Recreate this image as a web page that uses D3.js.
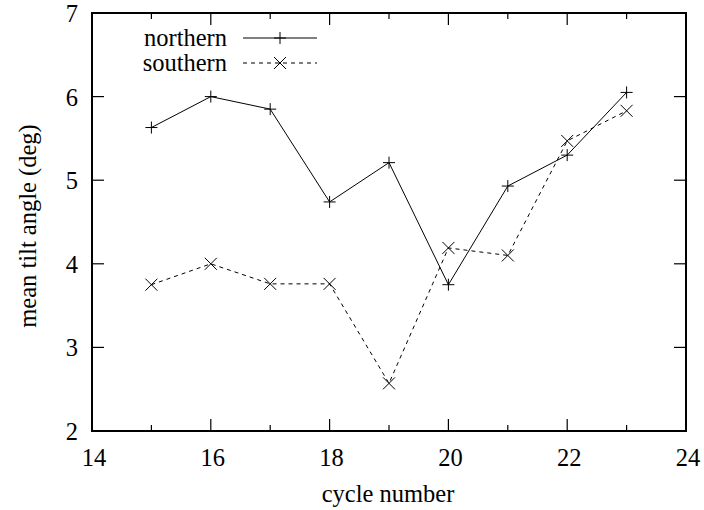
<!DOCTYPE html>
<html><head><meta charset="utf-8">
<script src="https://cdn.jsdelivr.net/npm/d3@7"></script>
<style>body{margin:0;background:#fff}svg text{font-family:"Liberation Serif","Times New Roman",serif;fill:#000}</style>
</head><body><svg id="c" width="704" height="510"></svg>
<script>
const cycles = [15,16,17,18,19,20,21,22,23];
const northern = [5.63,6.00,5.85,4.74,5.21,3.75,4.93,5.30,6.05];
const southern = [3.75,4.00,3.76,3.76,2.57,4.19,4.10,5.47,5.83];
const xTicks = [14,16,18,20,22,24];
const xMinor = [15,17,19,21,23];
const yTicks = [2,3,4,5,6,7];
const seriesNames = ["northern","southern"];

const svg = d3.select("#c");
const L=92,R=686,T=13,B=431;
const FS=24.5;
const x = d3.scaleLinear().domain([14,24]).range([L,R]);
const y = d3.scaleLinear().domain([2,7]).range([B,T]);
const g = svg.append("g");

// ticks
const tk = g.append("g").attr("stroke","#000").attr("stroke-width",1.2);
xTicks.forEach(v=>{
  tk.append("line").attr("x1",x(v)).attr("x2",x(v)).attr("y1",B).attr("y2",B-12);
  tk.append("line").attr("x1",x(v)).attr("x2",x(v)).attr("y1",T).attr("y2",T+12);
});
xMinor.forEach(v=>{
  tk.append("line").attr("x1",x(v)).attr("x2",x(v)).attr("y1",B).attr("y2",B-6);
  tk.append("line").attr("x1",x(v)).attr("x2",x(v)).attr("y1",T).attr("y2",T+6);
});
yTicks.forEach(v=>{
  tk.append("line").attr("x1",L).attr("x2",L+12).attr("y1",y(v)).attr("y2",y(v));
  tk.append("line").attr("x1",R).attr("x2",R-12).attr("y1",y(v)).attr("y2",y(v));
});
// labels
xTicks.forEach(v=>{
  g.append("text").attr("x",x(v)+2).attr("y",466).attr("text-anchor","middle").attr("font-size",FS).text(v);
});
yTicks.forEach(v=>{
  g.append("text").attr("x",78).attr("y",y(v)+9).attr("text-anchor","end").attr("font-size",FS).text(v);
});
g.append("text").attr("x",388).attr("y",502).attr("text-anchor","middle").attr("font-size",FS).text("cycle number");
g.append("text").attr("transform","translate(36,226) rotate(-90)").attr("text-anchor","middle").attr("font-size",FS).text("mean tilt angle (deg)");

// frame
g.append("rect").attr("x",L).attr("y",T).attr("width",R-L).attr("height",B-T).attr("fill","none").attr("stroke","#000").attr("stroke-width",2);

const line = d3.line().x((d,i)=>x(cycles[i])).y(d=>y(d));
const plus = (sel,cx,cy)=>{const s=6;sel.append("path").attr("d",`M${cx-s},${cy}H${cx+s}M${cx},${cy-s}V${cy+s}`).attr("stroke","#000").attr("stroke-width",1).attr("fill","none");};
const cross = (sel,cx,cy)=>{const s=6;sel.append("path").attr("d",`M${cx-s},${cy-s}L${cx+s},${cy+s}M${cx-s},${cy+s}L${cx+s},${cy-s}`).attr("stroke","#000").attr("stroke-width",1).attr("fill","none");};

g.append("path").datum(northern).attr("d",line).attr("fill","none").attr("stroke","#000").attr("stroke-width",1);
g.append("path").datum(southern).attr("d",line).attr("fill","none").attr("stroke","#000").attr("stroke-width",1).attr("stroke-dasharray","4,4");
northern.forEach((v,i)=>plus(g,x(cycles[i]),y(v)));
southern.forEach((v,i)=>cross(g,x(cycles[i]),y(v)));

// legend
const leg = g.append("g");
[[38,seriesNames[0],plus,null],[63,seriesNames[1],cross,"4,4"]].forEach(([ly,name,mk,dash])=>{
  leg.append("text").attr("x",227).attr("y",ly+8).attr("text-anchor","end").attr("font-size",FS).text(name);
  const ln=leg.append("line").attr("x1",243).attr("x2",317).attr("y1",ly).attr("y2",ly).attr("stroke","#000").attr("stroke-width",1);
  if(dash) ln.attr("stroke-dasharray",dash);
  mk(leg,280,ly);
});
</script></body></html>
